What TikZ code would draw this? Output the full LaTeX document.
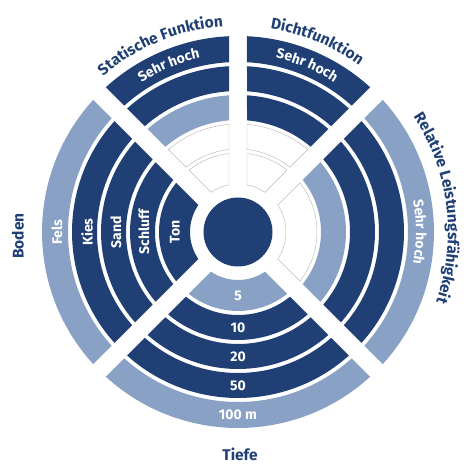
\documentclass[tikz,border=0pt]{standalone}
\usepackage{fontspec}
\setmainfont{Fira Sans}
\usetikzlibrary{decorations.text}
\definecolor{ringdark}{RGB}{31,63,117}
\definecolor{ringlight}{RGB}{137,161,196}
\definecolor{ringedge}{RGB}{185,185,185}
\newcommand{\gaphalf}{9}
\newcommand{\headfont}{\fontsize{15.5}{18}\selectfont\bfseries}
\newcommand{\bandfont}{\fontsize{14}{16}\selectfont\bfseries}
% annular piece: style, from angle, to angle, inner radius, outer radius
\newcommand{\ringseg}[5]{%
  \path[#1] ({#2+asin(\gaphalf/#5)}:#5)
    arc[start angle={#2+asin(\gaphalf/#5)}, end angle={#3-asin(\gaphalf/#5)}, radius=#5]
    -- ({#3-asin(\gaphalf/#4)}:#4)
    arc[start angle={#3-asin(\gaphalf/#4)}, end angle={#2+asin(\gaphalf/#4)}, radius=#4]
    -- cycle;}
\tikzset{
  darkring/.style={fill=ringdark},
  lightring/.style={fill=ringlight},
  emptyring/.style={fill=white,draw=ringedge,line width=0.45pt},
  hub/.style={circle,fill=ringdark,minimum size=69pt,inner sep=0pt},
  bandlabel/.style={text=white,font=\bandfont,inner sep=0pt},
  heading/.style={text=ringdark,font=\headfont,inner sep=0pt},
  curvedband/.style={decorate,decoration={text along path,text align=center,
                     text color=white,text={|\bandfont|#1}}},
  curvedhead/.style={decorate,decoration={text along path,text align=center,
                     text color=ringdark,text={|\headfont|#1}}},
}

\begin{document}
\begin{tikzpicture}[x=1pt,y=1pt]
  \useasboundingbox (-238,-238) rectangle (232,232);

  % rings: inner/outer radius, then Statische, Dicht, Leistung, Boden, Tiefe
  \foreach \ri/\ro/\stat/\dicht/\leist/\boden/\tiefe in {
      48/79/emptyring/emptyring/emptyring/darkring/lightring,
      83/108/emptyring/emptyring/lightring/darkring/darkring,
      112/137/lightring/darkring/darkring/darkring/darkring,
      141/166/darkring/darkring/darkring/darkring/darkring,
      170/196/darkring/darkring/lightring/lightring/lightring}{
    \ringseg{\stat}{90}{135}{\ri}{\ro}
    \ringseg{\dicht}{45}{90}{\ri}{\ro}
    \ringseg{\leist}{-45}{45}{\ri}{\ro}
    \ringseg{\boden}{135}{225}{\ri}{\ro}
    \ringseg{\tiefe}{225}{315}{\ri}{\ro}
  }

  \node[hub] (hub) at (0,0) {};

  % depth labels
  \foreach \r/\t [count=\k] in {63.5/5,95.5/10,124.5/20,153.5/50,183/100 m}
    \node[bandlabel] (depth\k) at (0,-\r) {\t};

  % soil labels
  \foreach \r/\t [count=\k] in {63/Ton,94/Schluff,122/Sand,151/Kies,181/Fels}
    \node[bandlabel,rotate=90] (soil\k) at (-\r,0) {\t};

  \path[curvedband={Sehr hoch}] (132.5:178) arc[start angle=132.5,end angle=92.5,radius=178];
  \path[curvedband={Sehr hoch}] (87.5:178) arc[start angle=87.5,end angle=47.5,radius=178];
  \path[curvedband={Sehr hoch}] (20:178) arc[start angle=20,end angle=-20,radius=178];

  \path[curvedhead={Statische Funktion}] (135:206) arc[start angle=135,end angle=90,radius=206];
  \path[curvedhead={Dichtfunktion}] (90:206) arc[start angle=90,end angle=45,radius=206];
  \path[curvedhead={Relative Leistungsfähigkeit}] (52:210) arc[start angle=52,end angle=-38,radius=210];

  \node[heading,rotate=90] (soilhead) at (-220,-4) {Boden};
  \node[heading] (depthhead) at (2,-222) {Tiefe};
\end{tikzpicture}
\end{document}
